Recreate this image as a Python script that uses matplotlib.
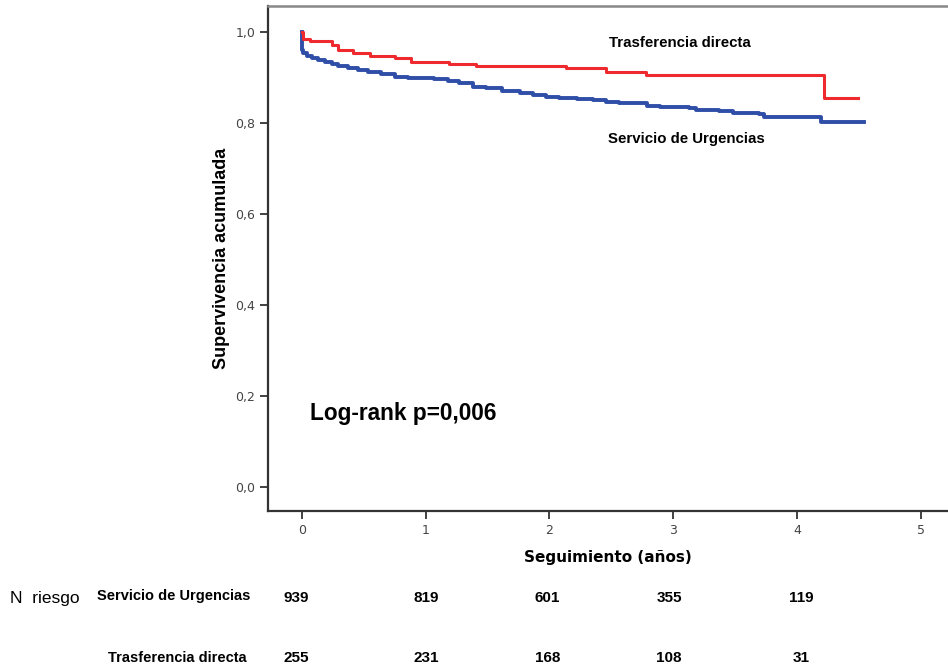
import matplotlib
matplotlib.use("Agg")
import matplotlib.pyplot as plt
import numpy as np

# Kaplan-Meier steps (time in years, cumulative survival)
t_urg = [0, 0.001, 0.011, 0.038, 0.078, 0.132, 0.185, 0.24, 0.293, 0.374, 0.454, 0.535,
         0.643, 0.75, 0.857, 0.965, 1.07, 1.18, 1.27, 1.38, 1.49, 1.62, 1.76, 1.87,
         1.97, 2.08, 2.22, 2.35, 2.46, 2.56, 2.79, 2.89, 3.13, 3.18, 3.32, 3.37,
         3.48, 3.69, 3.73, 4.19, 4.54]
s_urg = [1.0, 0.960, 0.953, 0.947, 0.943, 0.938, 0.933, 0.929, 0.925, 0.921, 0.916, 0.911,
         0.906, 0.901, 0.899, 0.898, 0.895, 0.892, 0.887, 0.879, 0.877, 0.870, 0.866, 0.861,
         0.857, 0.854, 0.852, 0.850, 0.845, 0.843, 0.837, 0.835, 0.833, 0.829, 0.828, 0.826,
         0.822, 0.819, 0.813, 0.802, 0.802]

t_tra = [0, 0.005, 0.065, 0.24, 0.29, 0.41, 0.55, 0.75, 0.885, 1.19, 1.41, 2.13, 2.46,
         2.78, 4.22, 4.49]
s_tra = [1.0, 0.985, 0.980, 0.971, 0.960, 0.953, 0.947, 0.942, 0.934, 0.929, 0.925, 0.920,
         0.912, 0.905, 0.855, 0.855]

risk_times = [0, 1, 2, 3, 4]
risk_urg = [939, 819, 601, 355, 119]
risk_tra = [255, 231, 168, 108, 31]

fig = plt.figure(figsize=(9.48, 6.68), dpi=100)
ax = fig.add_axes([268 / 948, 1 - 511 / 668, 680 / 948, 505 / 668])

ax.step(t_urg, s_urg, where="post", color="#2f4ea8", linewidth=2.8)
ax.step(t_tra, s_tra, where="post", color="#ee2a2f", linewidth=2.2)

ax.set_xlim(-0.274, 5.22)
ax.set_ylim(-0.0534, 1.0565)
ax.set_xticks([0, 1, 2, 3, 4, 5])
ax.set_xticklabels(["0", "1", "2", "3", "4", "5"])
ax.set_yticks([0, 0.2, 0.4, 0.6, 0.8, 1.0])
ax.set_yticklabels(["0,0", "0,2", "0,4", "0,6", "0,8", "1,0"])
ax.tick_params(axis="both", direction="out", length=6, width=1.3, color="#333333",
               labelsize=9, labelcolor="#444444", pad=3)

ax.spines["right"].set_visible(False)
ax.spines["top"].set_color("#888888")
ax.spines["top"].set_linewidth(1.8)
for s in ["left", "bottom"]:
    ax.spines[s].set_color("#333333")
    ax.spines[s].set_linewidth(1.6)

ax.set_ylabel("Supervivencia acumulada", fontsize=13, fontweight="bold",
              family="Liberation Sans", labelpad=4)
ax.set_xlabel("Seguimiento (años)", fontsize=11, fontweight="bold", labelpad=10)

ax.text(2.48, 0.975, "Trasferencia directa", fontsize=10.8, fontweight="bold",
        family="Liberation Sans", va="center")
ax.text(2.47, 0.765, "Servicio de Urgencias", fontsize=10.8, fontweight="bold",
        family="Liberation Sans", va="center")
ax.text(0.065, 0.160, "Log-rank p=0,006", fontsize=16.3, fontweight="bold",
        family="Liberation Sans", va="center")

# numbers at risk table below the axis
fig.text(10 / 948, 1 - 598 / 668, "N  riesgo", fontsize=12.5, family="Liberation Sans",
         va="center")
fig.text(250 / 948, 1 - 596 / 668, "Servicio de Urgencias", fontsize=10.5,
         family="Liberation Sans", fontweight="bold", va="center", ha="right")
fig.text(247 / 948, 1 - 658 / 668, "Trasferencia directa", fontsize=10.5,
         family="Liberation Sans", fontweight="bold", va="center", ha="right")
shift = [-6, 1, -2, -4, 4]
for t, a, b, d in zip(risk_times, risk_urg, risk_tra, shift):
    xf = (ax.transData.transform((t, 0))[0] + d) / fig.bbox.width
    fig.text(xf, 1 - 598 / 668, str(a), fontsize=11, family="Liberation Sans",
             fontweight="bold", va="center", ha="center")
    fig.text(xf, 1 - 658 / 668, str(b), fontsize=11, family="Liberation Sans",
             fontweight="bold", va="center", ha="center")

fig.savefig("out.png", dpi=100)
